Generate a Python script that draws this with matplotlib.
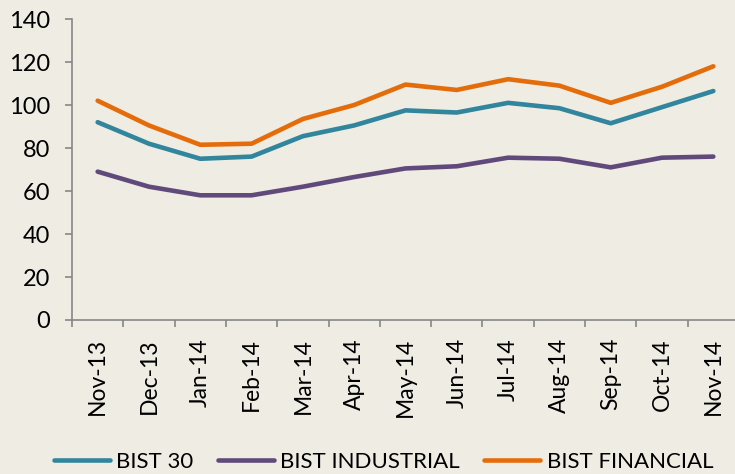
import matplotlib
matplotlib.use("Agg")
import matplotlib.pyplot as plt

# monthly index values
months = ["Nov-13", "Dec-13", "Jan-14", "Feb-14", "Mar-14", "Apr-14", "May-14",
          "Jun-14", "Jul-14", "Aug-14", "Sep-14", "Oct-14", "Nov-14"]
bist30 = [92, 82, 75, 76, 85.5, 90.5, 97.5, 96.5, 101, 98.5, 91.5, 99, 106.5]
bist_ind = [69, 62, 58, 58, 62, 66.5, 70.5, 71.5, 75.5, 75, 71, 75.5, 76]
bist_fin = [102, 90.5, 81.5, 82, 93.5, 100, 109.5, 107, 112, 109, 101, 108.5, 118]

bg = "#EEECE3"
grey = "#868686"
plt.rcParams['font.family'] = ['Lato', 'DejaVu Sans']

fig = plt.figure(figsize=(7.35, 4.74), dpi=100, facecolor=bg)
ax = fig.add_axes([72/735, 154/474, 667/735, 301/474], facecolor=bg)

x = range(len(months))
lw = 3.3
ax.plot(x, bist30, color="#31859C", lw=lw, solid_capstyle="round", solid_joinstyle="round", label="BIST 30")
ax.plot(x, bist_ind, color="#604A7B", lw=lw, solid_capstyle="round", solid_joinstyle="round", label="BIST INDUSTRIAL")
ax.plot(x, bist_fin, color="#E46C0A", lw=lw, solid_capstyle="round", solid_joinstyle="round", label="BIST FINANCIAL")

ax.set_xlim(-0.5, len(months) - 0.5)
ax.set_ylim(0, 140)
ax.set_yticks(range(0, 141, 20))
ax.set_xticks(x)
ax.set_xticklabels(months, rotation=90, fontsize=16.5)
ax.set_xticks([i - 0.5 for i in range(len(months) + 1)], minor=True)
ax.tick_params(axis="x", which="major", length=0, pad=13)
ax.tick_params(axis="x", which="minor", length=5, width=1.2, color=grey)
ax.tick_params(axis="y", length=5, width=1.2, color=grey, labelsize=17, pad=11)

for s in ["top", "right"]:
    ax.spines[s].set_visible(False)
for s in ["left", "bottom"]:
    ax.spines[s].set_color(grey)
    ax.spines[s].set_linewidth(1.2)

fig.legend(loc="center", bbox_to_anchor=(0.522, 0.025), ncol=3, frameon=False,
           fontsize=16, handlelength=2.5, handletextpad=0.3, columnspacing=1.1)

fig.savefig("out.png", dpi=100, facecolor=bg)
